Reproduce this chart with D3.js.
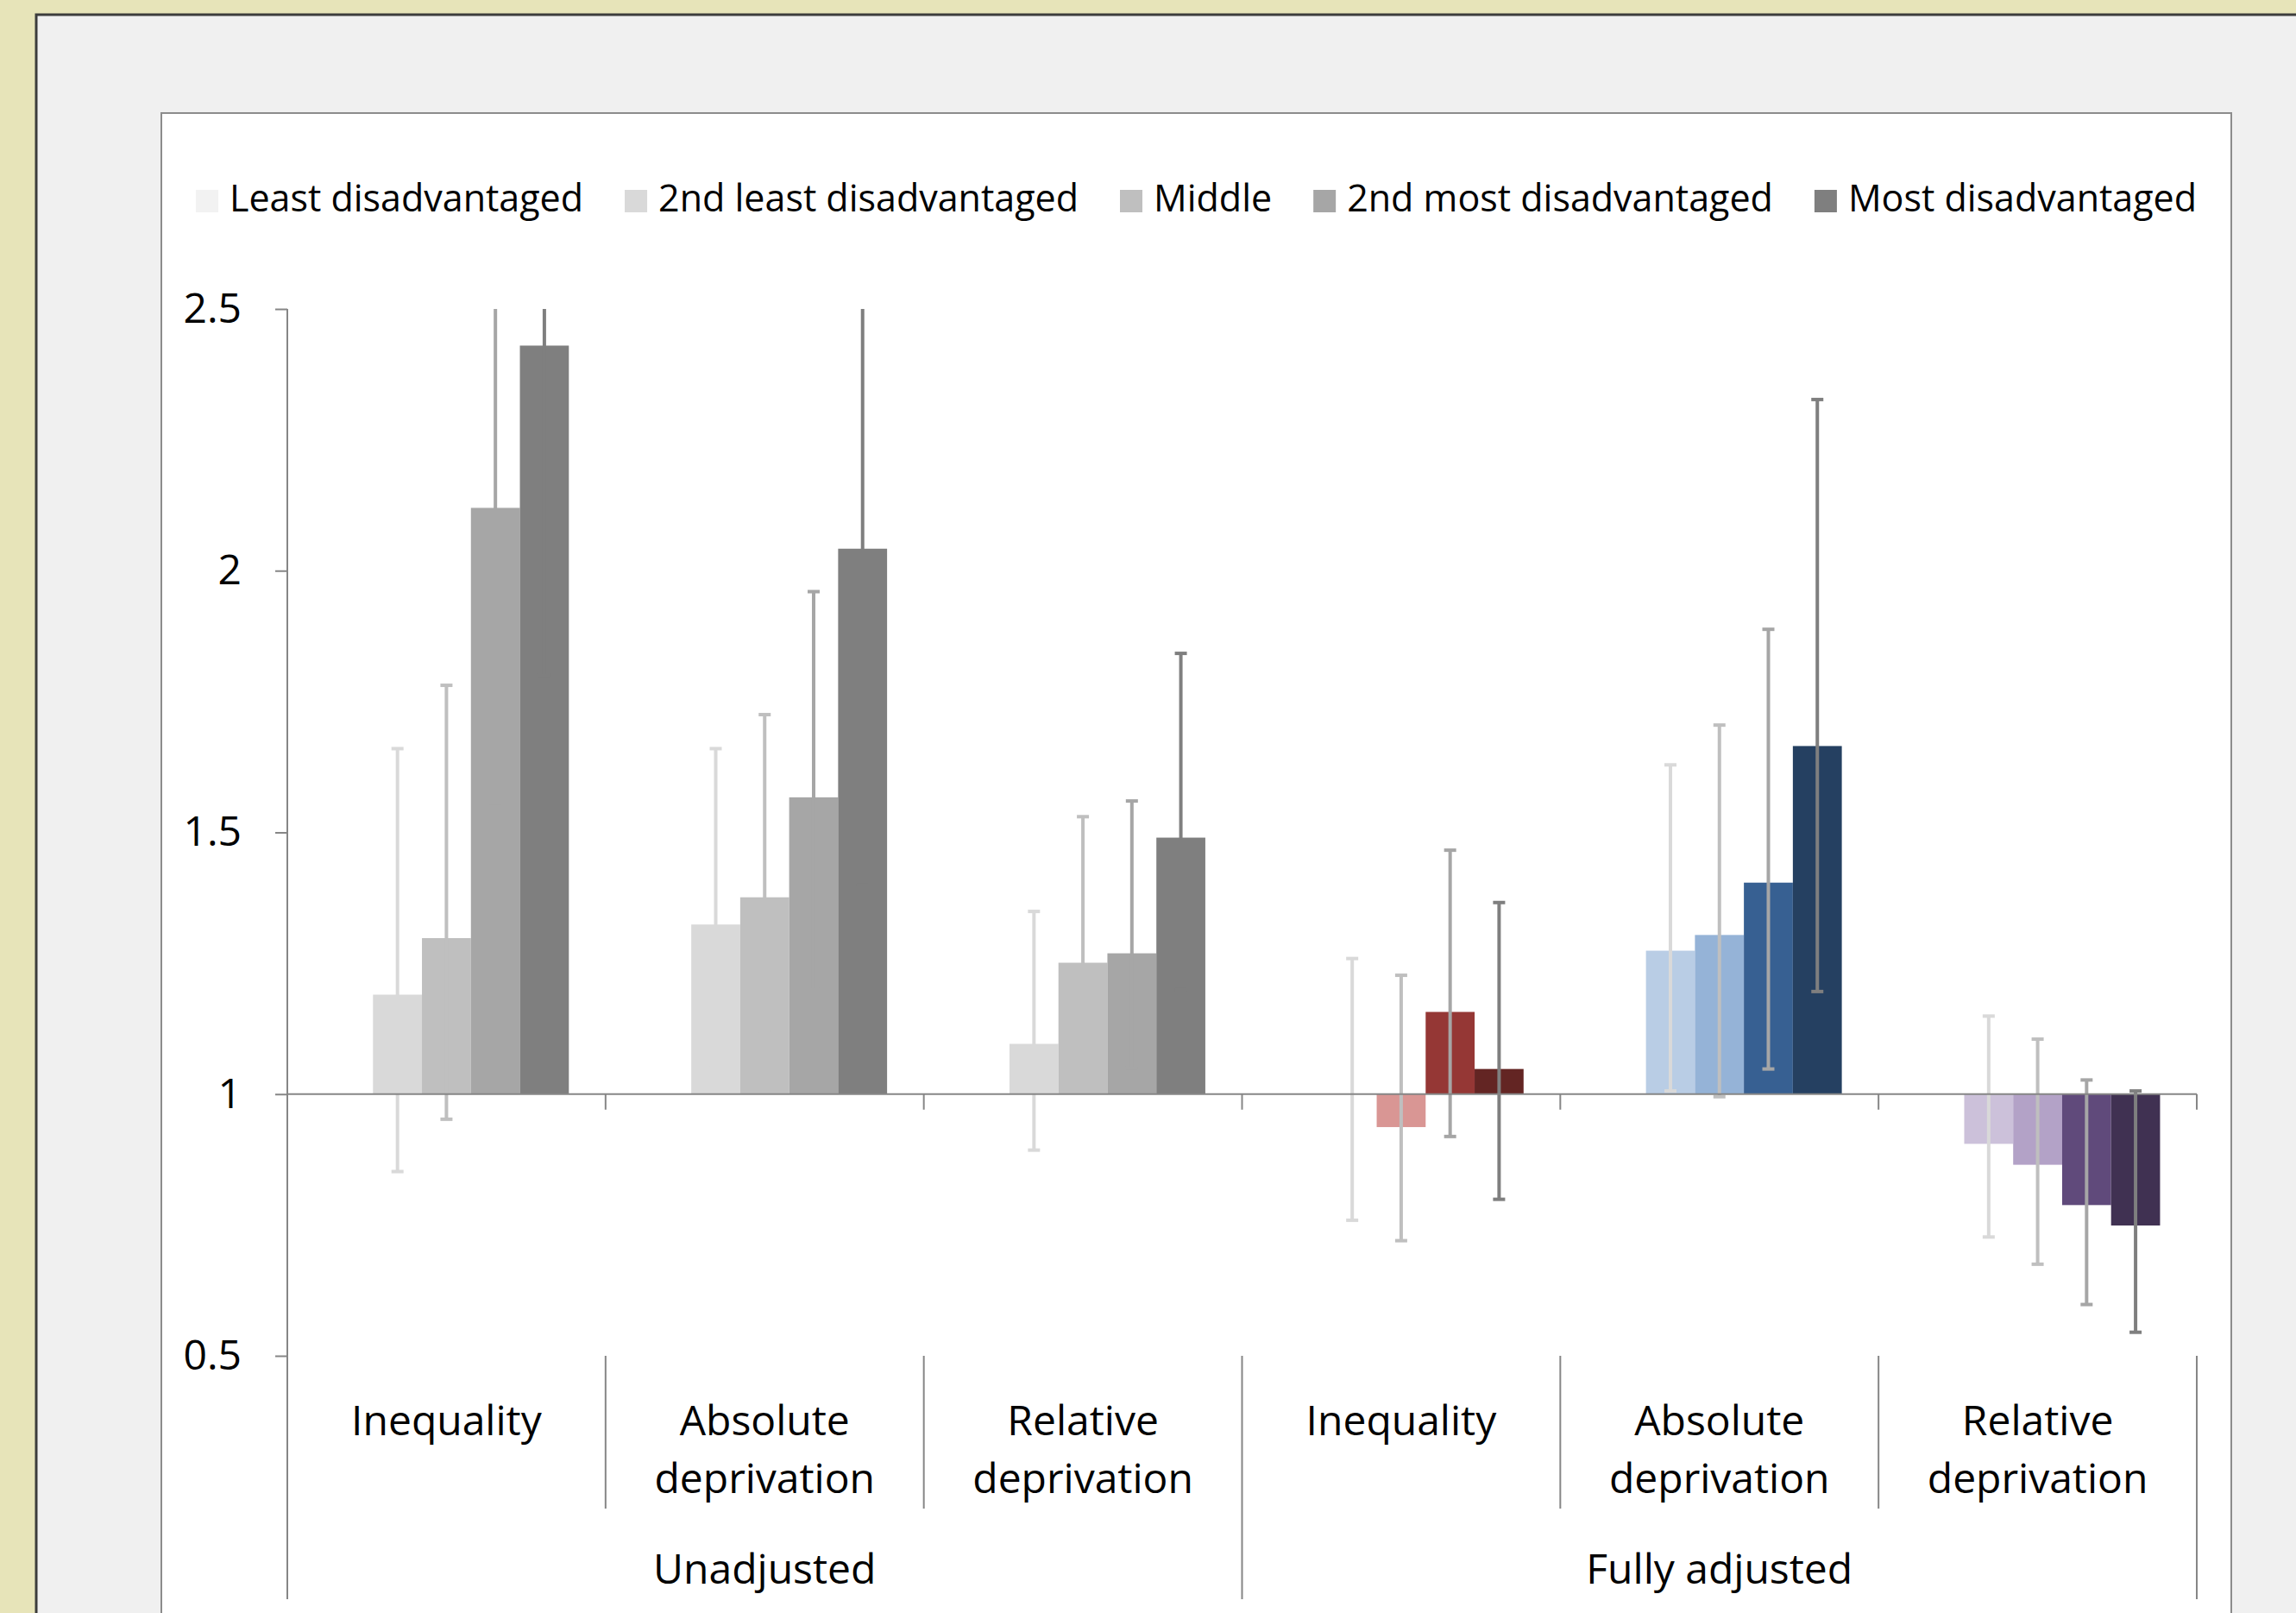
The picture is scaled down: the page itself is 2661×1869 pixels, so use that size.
<!DOCTYPE html>
<html>
<head>
<meta charset="utf-8">
<script src="https://cdn.jsdelivr.net/npm/d3@7"></script>
<style>
  body { margin: 0; background: #e7e4b9; }
  svg { display: block; font-family: "Open Sans", "Noto Sans", sans-serif; }
  .axis-line { stroke: #868686; stroke-width: 2; fill: none; }
</style>
</head>
<body>
<svg id="chart" width="2661" height="1869"></svg>
<script>
// ---- data ----
const seriesNames = ["Least disadvantaged", "2nd least disadvantaged", "Middle", "2nd most disadvantaged", "Most disadvantaged"];
const categories = ["Inequality", "Absolute deprivation", "Relative deprivation", "Inequality", "Absolute deprivation", "Relative deprivation"];
const groupNames = ["Unadjusted", "Fully adjusted"];
const groupSizes = [3, 3];
const yTicks = [0.5, 1, 1.5, 2, 2.5];

// ratio per category, one array per series
const leastVals       = [1, 1, 1, 1, 1, 1];
const secondLeastVals = [1.19, 1.324, 1.096, 1.0, 1.274, 0.905];
const middleVals      = [1.298, 1.376, 1.251, 0.937, 1.304, 0.865];
const secondMostVals  = [2.12, 1.567, 1.269, 1.157, 1.404, 0.788];
const mostVals        = [2.43, 2.042, 1.49, 1.048, 1.665, 0.749];

// confidence intervals (lower / upper)
const secondLeastLo = [0.852, 1.05, 0.893, 0.759, 1.006, 0.727];
const secondLeastHi = [1.66, 1.66, 1.349, 1.259, 1.629, 1.149];
const middleLo      = [0.952, 1.12, 1.05, 0.72, 0.995, 0.675];
const middleHi      = [1.781, 1.725, 1.53, 1.227, 1.705, 1.105];
const secondMostLo  = [1.55, 1.2, 1.05, 0.919, 1.048, 0.598];
const secondMostHi  = [2.9, 1.96, 1.56, 1.466, 1.888, 1.027];
const mostLo        = [1.8, 1.4, 1.2, 0.799, 1.196, 0.545];
const mostHi        = [3.3, 2.9, 1.842, 1.366, 2.327, 1.006];

const grays   = ["#f2f2f2", "#d9d9d9", "#bfbfbf", "#a6a6a6", "#7f7f7f"];
const reds    = ["#f2dcdb", "#e6b9b8", "#d99694", "#953735", "#632523"];
const blues   = ["#dbe5f1", "#b9cde5", "#95b3d7", "#376092", "#254061"];
const purples = ["#e5e0ec", "#ccc1da", "#b3a2c7", "#604a7b", "#403152"];
const catPalettes = [grays, grays, grays, reds, blues, purples];

const seriesVals = [leastVals, secondLeastVals, middleVals, secondMostVals, mostVals];
const seriesLo = [null, secondLeastLo, middleLo, secondMostLo, mostLo];
const seriesHi = [null, secondLeastHi, middleHi, secondMostHi, mostHi];

function drawChart() {
  const W = 2661, H = 1869;
  const svg = d3.select("#chart");

  // frame: grey panel + white chart area
  svg.append("rect").attr("x", 42).attr("y", 17).attr("width", W).attr("height", H)
    .attr("fill", "#f0f0f0").attr("stroke", "#3c3c3c").attr("stroke-width", 3);
  svg.append("rect").attr("x", 187).attr("y", 131).attr("width", 2586 - 187).attr("height", H)
    .attr("fill", "#ffffff").attr("stroke", "#8c8c8c").attr("stroke-width", 2);

  const left = 333, right = 2546;
  const yTop = 358, yBottom = 1571;
  const labelBottom = 1853, innerSepBottom = 1748;

  const catIdx = d3.range(categories.length);
  const x0 = d3.scaleBand().domain(catIdx).range([left, right]);
  // excel style gap width 150% -> 0.75 bar width each side
  const x1 = d3.scaleBand().domain(d3.range(seriesNames.length))
    .range([0, x0.bandwidth()]).paddingOuter(0.75);
  const y = d3.scaleLinear().domain([0.5, 2.5]).range([yBottom, yTop]);

  // y axis
  const yAxis = d3.axisLeft(y).tickValues(yTicks).tickFormat(d => d)
    .tickSize(14).tickPadding(39);
  const yg = svg.append("g").attr("transform", `translate(${left},0)`).call(yAxis);
  yg.select(".domain").remove();
  yg.selectAll(".tick line").attr("stroke", "#868686").attr("stroke-width", 2);
  yg.selectAll(".tick text").attr("font-size", 48).attr("fill", "#000")
    .attr("font-family", "'Open Sans', sans-serif");
  svg.append("line").attr("class", "axis-line")
    .attr("x1", left).attr("x2", left).attr("y1", yTop).attr("y2", labelBottom);

  // bars
  const plot = svg.append("g");
  const clip = svg.append("clipPath").attr("id", "plotclip");
  clip.append("rect").attr("x", left).attr("y", yTop).attr("width", right - left).attr("height", H - yTop);

  const bars = [];
  seriesVals.forEach((vals, s) => {
    vals.forEach((v, c) => bars.push({ s, c, v, lo: seriesLo[s] ? seriesLo[s][c] : null, hi: seriesHi[s] ? seriesHi[s][c] : null }));
  });

  plot.selectAll("rect.bar").data(bars).enter().append("rect")
    .attr("class", "bar")
    .attr("x", d => x0(d.c) + x1(d.s))
    .attr("width", x1.bandwidth())
    .attr("y", d => Math.min(y(d.v), y(1)))
    .attr("height", d => Math.abs(y(d.v) - y(1)))
    .attr("fill", d => catPalettes[d.c][d.s]);

  // x axis line at 1 and category ticks
  svg.append("line").attr("class", "axis-line")
    .attr("x1", left).attr("x2", right).attr("y1", y(1)).attr("y2", y(1));
  d3.range(1, categories.length + 1).forEach(i => {
    const xb = i < categories.length ? x0(i) : right;
    svg.append("line").attr("class", "axis-line")
      .attr("x1", xb).attr("x2", xb).attr("y1", y(1)).attr("y2", y(1) + 18);
  });

  // error bars
  const errs = bars.filter(d => d.lo !== null);
  const eg = plot.append("g").attr("clip-path", "url(#plotclip)");
  const cap = 7;
  errs.forEach(d => {
    const cx = x0(d.c) + x1(d.s) + x1.bandwidth() / 2;
    const col = grays[d.s];
    eg.append("line").attr("x1", cx).attr("x2", cx).attr("y1", y(d.lo)).attr("y2", y(d.hi))
      .attr("stroke", col).attr("stroke-width", 4);
    [d.lo, d.hi].forEach(v => {
      eg.append("line").attr("x1", cx - cap).attr("x2", cx + cap).attr("y1", y(v)).attr("y2", y(v))
        .attr("stroke", col).attr("stroke-width", 4);
    });
  });

  // category label separators
  let k = 0;
  const outer = [0];
  groupSizes.forEach(n => { k += n; outer.push(k); });
  d3.range(0, categories.length + 1).forEach(i => {
    const xb = i < categories.length ? x0(i) : right;
    if (i === 0) return;
    svg.append("line").attr("class", "axis-line").attr("stroke-width", 1.5)
      .attr("x1", xb).attr("x2", xb).attr("y1", yBottom)
      .attr("y2", outer.includes(i) ? labelBottom : innerSepBottom);
  });

  // category labels
  const catText = svg.append("g").attr("font-size", 48).attr("fill", "#000").attr("text-anchor", "middle");
  categories.forEach((name, i) => {
    const t = catText.append("text").attr("x", x0(i) + x0.bandwidth() / 2).attr("y", 1663);
    name.split(" ").forEach((w, j) => {
      t.append("tspan").attr("x", x0(i) + x0.bandwidth() / 2).attr("dy", j === 0 ? 0 : 67).text(w);
    });
  });

  // group labels
  let start = 0;
  groupNames.forEach((g, gi) => {
    const a = x0(start);
    const endIdx = start + groupSizes[gi];
    const b = endIdx < categories.length ? x0(endIdx) : right;
    catText.append("text").attr("x", (a + b) / 2).attr("y", 1835).text(g);
    start = endIdx;
  });

  // legend, centred over the chart area
  const legend = svg.append("g").attr("font-size", 43).attr("fill", "#000");
  const sw = 26, swGap = 13, itemGap = 48;
  const items = seriesNames.map((name, i) => {
    const g = legend.append("g");
    g.append("rect").attr("width", sw).attr("height", sw).attr("y", -sw + 1).attr("fill", grays[i]);
    const t = g.append("text").attr("x", sw + swGap).attr("y", 0).text(name);
    return { g, w: sw + swGap + t.node().getComputedTextLength() };
  });
  const total = d3.sum(items, d => d.w) + itemGap * (items.length - 1);
  let lx = (187 + 2586) / 2 - total / 2;
  items.forEach(it => {
    it.g.attr("transform", `translate(${lx},245)`);
    lx += it.w + itemGap;
  });
}

drawChart();
</script>
</body>
</html>
